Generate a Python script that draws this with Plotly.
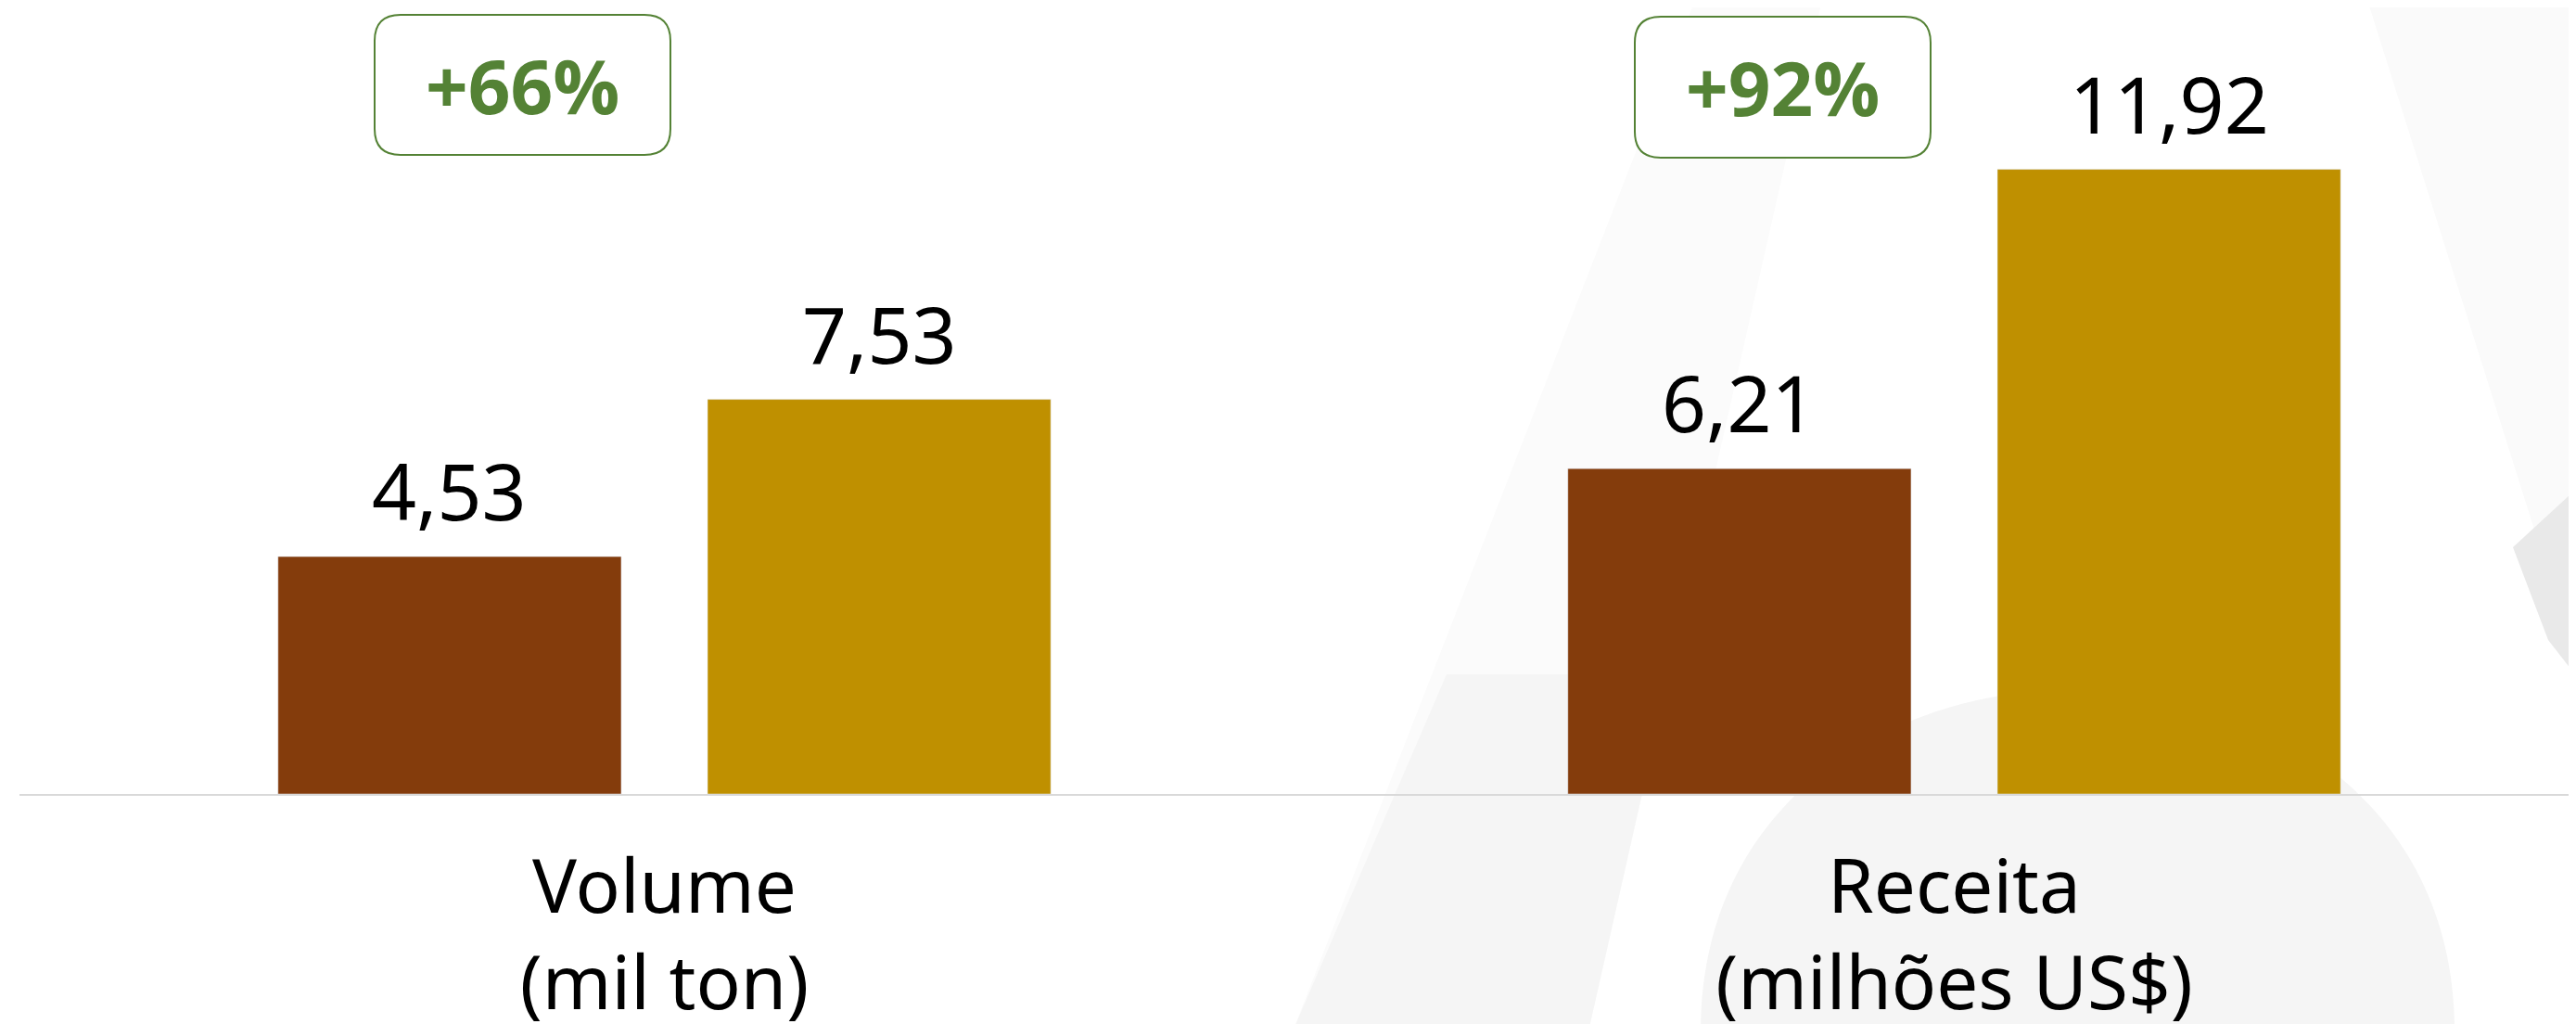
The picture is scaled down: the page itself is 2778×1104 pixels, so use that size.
import plotly.graph_objects as go

# data
categories = ["Volume<br>(mil ton)", "Receita<br>(milhões US$)"]
values_before = [4.53, 6.21]
values_after = [7.53, 11.92]
growth_labels = ["+66%", "+92%"]

W, H = 2778, 1104
OFF = 8  # default body margin of the html page
ML, MR, MT, MB = 13, 0, 0, 256
PW, PH = W - ML - MR, H - MT - MB

BROWN = "#843C0C"
GOLD = "#BF9000"
GREEN = "#548235"
FONT = "Noto Sans"
BARGAP = 0.334
BARGROUPGAP = 0.2009


def px(x, y):
    # pixel position on the page -> paper coordinates
    return (x - OFF - ML) / PW, (H - MB - (y - OFF)) / PH


def rounded_box(x0, y0, x1, y1, r):
    pts = []
    a = px(x0 + r, y0); pts.append(f"M {a[0]},{a[1]}")
    a = px(x1 - r, y0); pts.append(f"L {a[0]},{a[1]}")
    c = px(x1, y0); e = px(x1, y0 + r); pts.append(f"Q {c[0]},{c[1]} {e[0]},{e[1]}")
    a = px(x1, y1 - r); pts.append(f"L {a[0]},{a[1]}")
    c = px(x1, y1); e = px(x1 - r, y1); pts.append(f"Q {c[0]},{c[1]} {e[0]},{e[1]}")
    a = px(x0 + r, y1); pts.append(f"L {a[0]},{a[1]}")
    c = px(x0, y1); e = px(x0, y1 - r); pts.append(f"Q {c[0]},{c[1]} {e[0]},{e[1]}")
    a = px(x0, y0 + r); pts.append(f"L {a[0]},{a[1]}")
    c = px(x0, y0); e = px(x0 + r, y0); pts.append(f"Q {c[0]},{c[1]} {e[0]},{e[1]}")
    return " ".join(pts) + " Z"


def poly(points):
    p = [px(x, y) for x, y in points]
    return "M " + " L ".join(f"{a},{b}" for a, b in p) + " Z"


fig = go.Figure()

for vals, color in [(values_before, BROWN), (values_after, GOLD)]:
    fig.add_trace(go.Bar(x=categories, y=vals, marker_color=color, cliponaxis=False))

# value labels above the bars (offset = half a bar slot inside the group)
annotations = []
half_slot = (1 - BARGAP) / 4
for side, vals in [(-1, values_before), (1, values_after)]:
    for i, v in enumerate(vals):
        annotations.append(dict(
            x=i + side * half_slot, y=v, xref="x", yref="y",
            text=f"{v:.2f}".replace(".", ","), showarrow=False,
            xanchor="center", yanchor="bottom", yshift=12,
            font=dict(family=FONT, size=84, color="black"),
        ))

# faint background watermark
shapes = [
    dict(type="path", path=poly([(1394, 1112), (1713, 1112), (1965, 0), (1828, 0)]),
         fillcolor="#fbfbfb", line_width=0),
    dict(type="path", path=poly([(1394, 1112), (1713, 1112), (1800, 727), (1560, 727)]),
         fillcolor="#f5f5f5", line_width=0),
    dict(type="path",
         path="M %s,%s C %s,%s %s,%s %s,%s Z" % (
             *px(1834, 1112), *px(1834, 620), *px(2647, 620), *px(2647, 1112)),
         fillcolor="#f5f5f5", line_width=0),
    dict(type="path", path=poly([(2553, 0), (2786, 0), (2786, 739)]),
         fillcolor="#fafafa", line_width=0),
    dict(type="path", path=poly([(2710, 590), (2786, 520), (2786, 739), (2748, 690)]),
         fillcolor="#e9e9e9", line_width=0),
]
for s in shapes:
    s.update(xref="paper", yref="paper", layer="below")

# growth boxes
boxes = [(404, 16, 723, 167), (1763, 18, 2082, 170)]
for (x0, y0, x1, y1), label in zip(boxes, growth_labels):
    shapes.append(dict(type="path", xref="paper", yref="paper",
                       path=rounded_box(x0, y0, x1, y1, 28),
                       fillcolor="white", line=dict(color=GREEN, width=2)))
    cx, cy = px((x0 + x1) / 2, (y0 + y1) / 2)
    annotations.append(dict(x=cx, y=cy, xref="paper", yref="paper", text=f"<b>{label}</b>",
                            showarrow=False, xanchor="center", yanchor="middle",
                            font=dict(family="Open Sans", size=80, color=GREEN)))

fig.update_layout(
    width=W,
    height=H,
    margin=dict(l=ML, r=MR, t=MT, b=MB, autoexpand=False),
    paper_bgcolor="white",
    plot_bgcolor="rgba(0,0,0,0)",
    showlegend=False,
    barmode="group",
    bargap=BARGAP,
    bargroupgap=BARGROUPGAP,
    shapes=shapes,
    annotations=annotations,
    xaxis=dict(
        range=[-0.5, 1.4878],
        automargin=False,
        showline=True,
        linecolor="#d9d9d9",
        linewidth=2,
        showgrid=False,
        ticks="",
        ticklabelstandoff=30,
        tickfont=dict(family=FONT, size=80, color="black"),
    ),
    yaxis=dict(range=[0, 15.01], visible=False, showgrid=False, zeroline=False,
               automargin=False),
)

fig.write_html("out.html")
